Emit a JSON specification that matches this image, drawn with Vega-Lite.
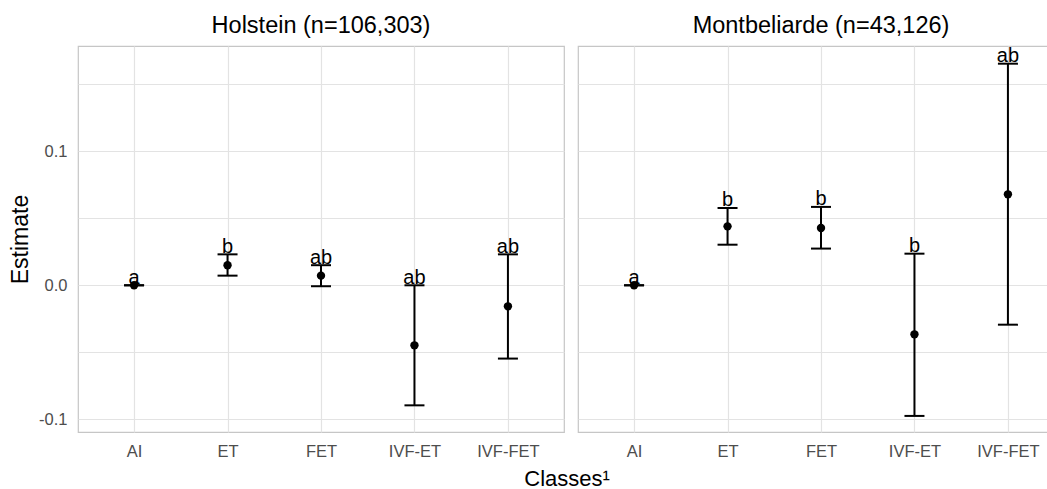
{
  "$schema": "https://vega.github.io/schema/vega-lite/v6.json",
  "padding": {"left": 9, "top": 13, "right": 0, "bottom": 5},
  "title": {"text": "Classes¹", "orient": "bottom", "anchor": "middle", "fontSize": 22, "font": "Liberation Sans", "fontWeight": "normal", "color": "black", "offset": 9, "dx": 30},
  "data": {
    "values": [
      {"breed": "Holstein (n=106,303)", "cls": "AI", "est": 0.0, "lo": 0.0, "hi": 0.0, "letter": "a"},
      {"breed": "Holstein (n=106,303)", "cls": "ET", "est": 0.015, "lo": 0.0072, "hi": 0.0231, "letter": "b"},
      {"breed": "Holstein (n=106,303)", "cls": "FET", "est": 0.0072, "lo": -0.0007, "hi": 0.015, "letter": "ab"},
      {"breed": "Holstein (n=106,303)", "cls": "IVF-ET", "est": -0.0448, "lo": -0.0896, "hi": 0.0, "letter": "ab"},
      {"breed": "Holstein (n=106,303)", "cls": "IVF-FET", "est": -0.0157, "lo": -0.0547, "hi": 0.0231, "letter": "ab"},
      {"breed": "Montbeliarde (n=43,126)", "cls": "AI", "est": 0.0, "lo": 0.0, "hi": 0.0, "letter": "a"},
      {"breed": "Montbeliarde (n=43,126)", "cls": "ET", "est": 0.044, "lo": 0.0303, "hi": 0.0577, "letter": "b"},
      {"breed": "Montbeliarde (n=43,126)", "cls": "FET", "est": 0.0428, "lo": 0.0274, "hi": 0.0585, "letter": "b"},
      {"breed": "Montbeliarde (n=43,126)", "cls": "IVF-ET", "est": -0.0366, "lo": -0.0975, "hi": 0.0236, "letter": "b"},
      {"breed": "Montbeliarde (n=43,126)", "cls": "IVF-FET", "est": 0.0679, "lo": -0.0294, "hi": 0.1654, "letter": "ab"}
    ]
  },
  "facet": {
    "column": {
      "field": "breed",
      "type": "nominal",
      "sort": ["Holstein (n=106,303)", "Montbeliarde (n=43,126)"],
      "header": {"title": null, "labelFontSize": 23.5, "labelFont": "Liberation Sans", "labelColor": "black", "labelPadding": 8}
    }
  },
  "spacing": 12,
  "spec": {
    "width": 486,
    "height": 386,
    "encoding": {
      "x": {
        "field": "cls",
        "type": "nominal",
        "sort": ["AI", "ET", "FET", "IVF-ET", "IVF-FET"],
        "scale": {"type": "point", "padding": 0.6},
        "axis": {"title": null, "labelAngle": 0, "labelPadding": 10}
      }
    },
    "layer": [
      {
        "mark": {"type": "rule", "color": "black", "strokeWidth": 2},
        "encoding": {
          "y": {
            "field": "lo",
            "type": "quantitative",
            "scale": {"domain": [-0.1095, 0.1786], "nice": false, "zero": false},
            "axis": {
              "title": "Estimate",
              "values": [-0.1, -0.05, 0, 0.05, 0.1, 0.15],
              "labelExpr": "abs(datum.value * 10 - round(datum.value * 10)) < 0.001 ? replace(format(datum.value, '.1f'), '−', '-') : ''",
              "titlePadding": 6,
              "labelPadding": 10
            }
          },
          "y2": {"field": "hi"}
        }
      },
      {
        "mark": {"type": "tick", "color": "black", "opacity": 1, "thickness": 2, "size": 20, "orient": "horizontal"},
        "encoding": {"y": {"field": "lo", "type": "quantitative"}}
      },
      {
        "mark": {"type": "tick", "color": "black", "opacity": 1, "thickness": 2, "size": 20, "orient": "horizontal"},
        "encoding": {"y": {"field": "hi", "type": "quantitative"}}
      },
      {
        "mark": {"type": "point", "filled": true, "color": "black", "opacity": 1, "size": 70},
        "encoding": {"y": {"field": "est", "type": "quantitative"}}
      },
      {
        "mark": {"type": "text", "color": "black", "fontSize": 20, "font": "Liberation Sans", "baseline": "alphabetic", "dy": -1.5},
        "encoding": {
          "y": {"field": "hi", "type": "quantitative"},
          "text": {"field": "letter"}
        }
      }
    ]
  },
  "config": {
    "font": "Liberation Sans",
    "view": {"stroke": "#c6c6c6", "strokeWidth": 1.2},
    "axis": {
      "grid": true,
      "gridColor": "#e3e3e3",
      "gridWidth": 1.2,
      "domain": false,
      "ticks": false,
      "labelColor": "#4d4d4d",
      "labelFontSize": 16.5,
      "labelFont": "Liberation Sans",
      "titleFont": "Liberation Sans",
      "titleFontWeight": "normal",
      "titleColor": "black",
      "titleFontSize": 23
    }
  }
}
